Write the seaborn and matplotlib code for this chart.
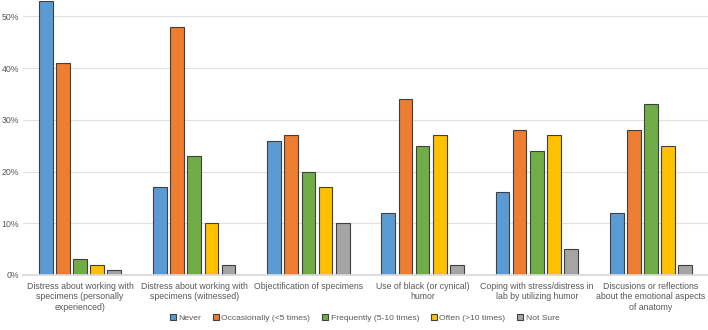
import seaborn as sns
import matplotlib.pyplot as plt
import pandas as pd
from matplotlib import font_manager
from matplotlib.ticker import PercentFormatter

sns.set_theme(style="white")
names = {f.name for f in font_manager.fontManager.ttflist}
if "Liberation Sans Narrow" in names:
    plt.rcParams['font.family'] = ['Liberation Sans Narrow', 'DejaVu Sans']
    fs = 7.5
else:
    plt.rcParams['font.family'] = ['Liberation Sans', 'DejaVu Sans']
    fs = 6.3

categories = [
    "Distress about working with\nspecimens (personally\nexperienced)",
    "Distress about working with\nspecimens (witnessed)",
    "Objectification of specimens",
    "Use of black (or cynical)\nhumor",
    "Coping with stress/distress in\nlab by utilizing humor",
    "Discusions or reflections\nabout the emotional aspects\nof anatomy",
]
responses = ["Never", "Occasionally (<5 times)", "Frequently (5-10 times)",
             "Often (>10 times)", "Not Sure"]
never = [53, 17, 26, 12, 16, 12]
occasionally = [41, 48, 27, 34, 28, 28]
frequently = [3, 23, 20, 25, 24, 33]
often = [2, 10, 17, 27, 27, 25]
not_sure = [1, 2, 10, 2, 5, 2]
colors = ["#5B9BD5", "#ED7D31", "#70AD47", "#FFC000", "#A5A5A5"]

rows = []
for series, name in zip([never, occasionally, frequently, often, not_sure], responses):
    for cat, v in zip(categories, series):
        rows.append({"category": cat, "response": name, "value": v / 100})
df = pd.DataFrame(rows)

fig, ax = plt.subplots(figsize=(7.08, 3.3), dpi=100)
sns.barplot(data=df, x="category", y="value", hue="response", palette=colors,
            saturation=1, width=0.75, gap=0.2, edgecolor="#404040",
            linewidth=0.8, ax=ax)

ax.set_ylim(0, 0.53)
ax.set_yticks([0, 0.1, 0.2, 0.3, 0.4, 0.5])
ax.yaxis.set_major_formatter(PercentFormatter(1.0, decimals=0))
ax.grid(axis="y", color="#e0e0e0", linewidth=0.8)
ax.set_axisbelow(True)
for s in ["top", "right", "left"]:
    ax.spines[s].set_visible(False)
ax.spines["bottom"].set_color("#d9d9d9")
ax.tick_params(axis="y", labelsize=fs, colors="#595959", length=0, pad=3)
ax.tick_params(axis="x", labelsize=fs, colors="#595959", length=0, pad=5)
for lbl in ax.get_xticklabels():
    lbl.set_linespacing(1.2)
ax.set_xlabel("")
ax.set_ylabel("")

ax.get_legend().remove()
handles, labels = ax.get_legend_handles_labels()
fig.legend(handles, labels, loc="center", bbox_to_anchor=(0.515, 0.035), ncol=5,
           frameon=False, fontsize=fs - 0.2, handlelength=0.7, handleheight=0.7,
           columnspacing=1.4, handletextpad=0.3, labelcolor="#595959")

fig.subplots_adjust(left=0.0325, right=1.0, top=0.997, bottom=0.167)
fig.savefig("out.png", dpi=100)
